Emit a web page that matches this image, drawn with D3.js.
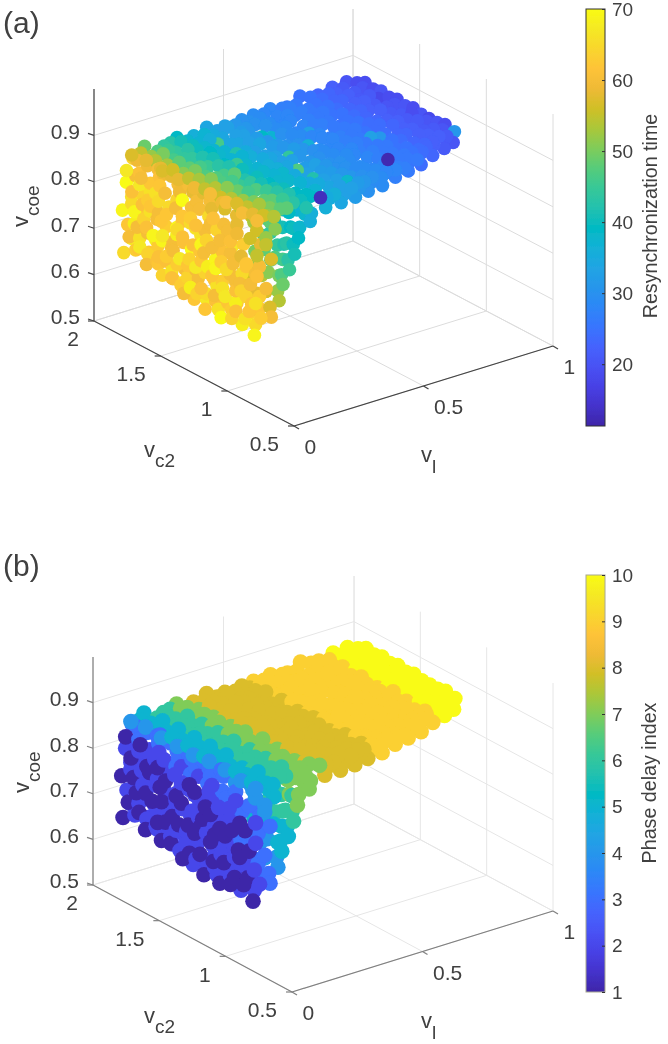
<!DOCTYPE html>
<html>
<head>
<meta charset="utf-8">
<script src="https://d3js.org/d3.v7.min.js"></script>
<style>
body { margin: 0; background: #fff; }
text { font-family: "Liberation Sans", Arial, sans-serif; fill: #404040; }
</style>
</head>
<body>
<div id="chart"></div>
<script>
// ticks
var vlTicks = [0, 0.5, 1];
var vc2Ticks = [0.5, 1, 1.5, 2];
var vcoeTicks = [0.5, 0.6, 0.7, 0.8, 0.9];
var resyncTicks = [20, 30, 40, 50, 60, 70];
var phaseTicks = [1, 2, 3, 4, 5, 6, 7, 8, 9, 10];

// matlab parula
var parula = ["#3e26a8","#4432cb","#4741e5","#4852f4","#4563fd","#3875fe","#2d87f7","#2796eb","#20a5e3","#12b1d6","#02bac3",
	"#24c1ae","#37c897","#57cc7a","#80cc59","#abc739","#d1bf27","#efba36","#fec338","#f9d62d","#f5e924","#f9fb14"];

// point cloud. Both panels show the same points.
// one line per vc2 step: top shelf first, then the low vl wall, then the front edges
var vl = [
	.13,.19,.25,.31,.37,.43,.49,.55,.61,.67,.73,.79,.85,.91,.97,
	.15,.21,.27,.33,.39,.45,.51,.57,.63,.69,.75,.81,.87,.93,.99,
	.17,.23,.29,.35,.41,.47,.53,.59,.65,.71,.77,.83,.89,.95,1.0,
	.13,.19,.25,.31,.37,.43,.49,.55,.61,.67,.73,.79,.85,.91,.97,
	.15,.21,.27,.33,.39,.45,.51,.57,.63,.69,.75,.81,.87,.93,.99,
	.17,.23,.29,.35,.41,.47,.53,.59,.65,.71,.77,.83,.89,.95,1.0,
	.13,.19,.25,.31,.37,.43,.49,.55,.61,.67,.73,.79,.85,.91,.97,
	.15,.21,.27,.33,.39,.45,.51,.57,.63,.69,.75,.81,.87,.93,.99,
	.17,.23,.29,.35,.41,.47,.53,.59,.65,.71,.77,.83,.89,.95,1.0,
	.13,.19,.25,.31,.37,.43,.49,.55,.61,.67,.73,.79,.85,.91,.97,
	.15,.21,.27,.33,.39,.45,.51,.57,.63,.69,.75,.81,.87,.93,.99,
	.17,.23,.29,.35,.41,.47,.53,.59,.65,.71,.77,.83,.89,.95,1.0,
	.13,.19,.25,.31,.37,.43,.49,.55,.61,.67,.73,.79,.85,.91,.97,
	.15,.21,.27,.33,.39,.45,.51,.57,.63,.69,.75,.81,.87,.93,.99,
	.17,.23,.29,.35,.41,.47,.53,.59,.65,.71,.77,.83,.89,.95,1.0,
	.13,.19,.25,.31,.37,.43,.49,.55,.61,.67,.73,.79,.85,.91,.97,
	.15,.21,.27,.33,.39,.45,.51,.57,.63,.69,.75,.81,.87,.93,.99,
	.17,.23,.29,.35,.41,.47,.53,.59,.65,.71,.77,.83,.89,.95,1.0,
	.13,.19,.25,.31,.37,.43,.49,.55,.61,.67,.73,.79,.85,.91,.97,
	.15,.21,.27,.33,.39,.45,.51,.57,.63,.69,.75,.81,.87,.93,.99,
	.17,.23,.29,.35,.41,.47,.53,.59,.65,.71,.77,.83,.89,.95,
	.13,.19,.25,.31,.37,.43,.49,.55,.61,.67,.73,.79,.85,
	.15,.21,.27,.33,.39,.45,.51,.57,.63,.69,.75,.81,
	.17,.23,.29,.35,.41,.47,.53,.59,.65,.71,.77,
	.13,.19,.25,.31,.37,.43,.49,.55,.61,.67,
	.11,.13,.12,.11,.13,.12,.11,.14,
	.13,.11,.12,.14,.12,.11,.13,.14,
	.12,.13,.11,.11,.14,.12,.13,.15,
	.14,.11,.13,.12,.12,.14,.11,.14,
	.11,.12,.14,.11,.13,.11,.13,.15,
	.13,.14,.11,.13,.11,.12,.14,.15,
	.12,.11,.13,.14,.12,.11,.12,.14,
	.11,.13,.14,.11,.11,.13,.12,.15,
	.13,.12,.11,.13,.14,.11,.14,.15,
	.14,.11,.12,.11,.13,.14,.12,.14,
	.12,.14,.11,.13,.11,.12,.13,.15,
	.11,.13,.12,.14,.11,.13,.14,.15,
	.13,.11,.14,.11,.12,.14,.11,.14,
	.12,.13,.11,.13,.14,.11,.13,.15,
	.14,.11,.13,.11,.12,.13,.14,.15,
	.11,.12,.14,.12,.11,.11,.13,.14,
	.13,.14,.11,.13,.11,.14,.12,.15,
	.12,.11,.13,.11,.14,.12,.14,.15,
	.11,.13,.12,.14,.11,.15,.14,.17,
	.13,.11,.14,.11,.13,.12,.15,.17,
	.11,.13,.12,.15,.11,.16,.13,.18,
	.13,.11,.14,.12,.15,.12,.16,.18,
	.12,.14,.11,.16,.12,.18,.17,.20,
	.14,.12,.15,.12,.16,.14,.18,.20,
	.12,.14,.13,.16,.13,.18,.17,.20,
	.17,.20,.22,.24,.26,.28,.32,
	.16,.19,.23,.25,.27,.29,.33,
	.16,.18,.21,.24,.26,.29,.31,
	.15,.17,.20,.22,.25,.27,.30,
	.18,.21,.23,.25,.27,.30,.34,
	.17,.20,.22,.24,.27,.30,.33,
	.16,.19,.21,.23,.26,.28,.31,
	.39,.45,.51,.57,.63,.69,.75,.81,.87,.93,.98,
	.42,.48,.54,.60,.66,.72,.78,.84,.90,.96
];
var vc2 = [
	1.97,1.99,1.96,1.98,1.97,1.99,1.97,1.96,1.99,1.98,1.97,1.99,1.97,1.98,1.99,
	1.94,1.93,1.95,1.94,1.93,1.95,1.93,1.94,1.95,1.93,1.94,1.95,1.93,1.94,1.95,
	1.90,1.89,1.91,1.89,1.90,1.91,1.89,1.90,1.89,1.91,1.89,1.90,1.91,1.89,1.91,
	1.86,1.85,1.87,1.86,1.85,1.87,1.85,1.86,1.87,1.85,1.86,1.87,1.85,1.86,1.87,
	1.83,1.81,1.82,1.81,1.83,1.81,1.83,1.82,1.81,1.83,1.81,1.82,1.83,1.81,1.83,
	1.78,1.77,1.79,1.78,1.77,1.79,1.77,1.78,1.79,1.77,1.78,1.79,1.77,1.78,1.79,
	1.74,1.73,1.75,1.73,1.74,1.75,1.73,1.74,1.75,1.73,1.74,1.75,1.73,1.74,1.75,
	1.70,1.69,1.71,1.70,1.69,1.71,1.69,1.70,1.71,1.69,1.70,1.71,1.69,1.70,1.71,
	1.66,1.65,1.67,1.65,1.66,1.67,1.65,1.66,1.65,1.67,1.65,1.66,1.67,1.65,1.67,
	1.62,1.61,1.63,1.62,1.61,1.63,1.61,1.62,1.63,1.61,1.62,1.63,1.61,1.62,1.63,
	1.58,1.57,1.59,1.57,1.58,1.59,1.57,1.58,1.59,1.57,1.58,1.59,1.57,1.58,1.59,
	1.54,1.53,1.55,1.54,1.53,1.55,1.53,1.54,1.55,1.53,1.54,1.55,1.53,1.54,1.55,
	1.50,1.49,1.51,1.49,1.50,1.51,1.49,1.50,1.49,1.51,1.49,1.50,1.51,1.49,1.50,
	1.46,1.45,1.47,1.46,1.45,1.47,1.45,1.46,1.47,1.45,1.46,1.47,1.45,1.46,1.47,
	1.42,1.41,1.43,1.41,1.42,1.43,1.41,1.42,1.43,1.41,1.42,1.43,1.41,1.42,1.43,
	1.38,1.37,1.39,1.38,1.37,1.39,1.37,1.38,1.39,1.37,1.38,1.39,1.37,1.38,1.39,
	1.34,1.33,1.35,1.33,1.34,1.35,1.33,1.34,1.33,1.35,1.33,1.34,1.35,1.33,1.35,
	1.30,1.29,1.31,1.30,1.29,1.31,1.29,1.30,1.31,1.29,1.30,1.31,1.29,1.30,1.31,
	1.26,1.25,1.27,1.25,1.26,1.27,1.25,1.26,1.27,1.25,1.26,1.27,1.25,1.26,1.27,
	1.22,1.21,1.23,1.22,1.21,1.23,1.21,1.22,1.23,1.21,1.22,1.23,1.21,1.22,1.22,
	1.18,1.17,1.19,1.17,1.18,1.19,1.17,1.18,1.17,1.175,1.17,1.18,1.19,1.20,
	1.14,1.13,1.15,1.14,1.13,1.15,1.13,1.14,1.15,1.13,1.14,1.15,1.16,
	1.10,1.09,1.11,1.09,1.10,1.11,1.09,1.10,1.11,1.09,1.11,1.12,
	1.06,1.05,1.07,1.06,1.05,1.07,1.05,1.06,1.07,1.05,1.07,
	1.03,1.02,1.04,1.01,1.02,1.03,1.02,1.04,1.03,1.04,
	1.99,1.97,1.98,2.00,1.97,1.99,1.97,1.98,
	1.94,1.95,1.93,1.94,1.95,1.93,1.94,1.95,
	1.90,1.91,1.89,1.91,1.90,1.89,1.91,1.89,
	1.86,1.87,1.85,1.86,1.87,1.85,1.86,1.87,
	1.82,1.83,1.81,1.82,1.83,1.81,1.83,1.81,
	1.78,1.79,1.77,1.78,1.79,1.77,1.78,1.79,
	1.75,1.73,1.74,1.73,1.75,1.73,1.74,1.75,
	1.70,1.71,1.69,1.70,1.71,1.69,1.70,1.71,
	1.66,1.65,1.67,1.66,1.65,1.67,1.65,1.66,
	1.62,1.63,1.61,1.62,1.63,1.61,1.62,1.63,
	1.58,1.59,1.57,1.58,1.59,1.57,1.59,1.58,
	1.54,1.55,1.53,1.54,1.55,1.53,1.54,1.55,
	1.50,1.49,1.51,1.50,1.49,1.51,1.49,1.50,
	1.46,1.47,1.45,1.46,1.47,1.45,1.46,1.47,
	1.43,1.41,1.42,1.41,1.43,1.42,1.41,1.42,
	1.38,1.39,1.37,1.38,1.39,1.37,1.38,1.39,
	1.34,1.35,1.33,1.34,1.33,1.35,1.34,1.33,
	1.30,1.31,1.29,1.30,1.31,1.29,1.30,1.31,
	1.26,1.25,1.27,1.25,1.26,1.25,1.27,1.26,
	1.22,1.23,1.21,1.22,1.23,1.21,1.22,1.23,
	1.18,1.19,1.17,1.18,1.17,1.19,1.18,1.17,
	1.14,1.15,1.13,1.14,1.15,1.13,1.14,1.15,
	1.10,1.09,1.11,1.10,1.09,1.10,1.11,1.09,
	1.06,1.07,1.05,1.06,1.07,1.05,1.06,1.07,
	1.03,1.02,1.04,1.02,1.03,1.02,1.04,1.03,
	1.00,1.00,1.01,1.00,1.00,1.01,1.00,
	1.07,1.08,1.06,1.07,1.08,1.07,1.06,
	1.14,1.13,1.15,1.14,1.13,1.15,1.14,
	1.22,1.21,1.23,1.22,1.21,1.23,1.22,
	1.03,1.03,1.04,1.03,1.03,1.04,1.03,
	1.11,1.10,1.12,1.11,1.10,1.11,1.12,
	1.18,1.19,1.18,1.17,1.18,1.19,1.18,
	1.02,1.02,1.03,1.05,1.06,1.08,1.10,1.12,1.15,1.18,1.21,
	1.05,1.05,1.06,1.08,1.10,1.12,1.14,1.17,1.20,1.23
];
var vcoe = [
	.84,.845,.84,.845,.84,.845,.84,.845,.84,.845,.84,.85,.845,.85,.85,
	.845,.84,.845,.84,.845,.84,.845,.84,.845,.85,.845,.85,.85,.85,.85,
	.84,.845,.85,.84,.845,.85,.84,.85,.845,.85,.84,.85,.85,.845,.855,
	.845,.85,.84,.845,.85,.84,.845,.85,.84,.85,.845,.85,.85,.85,.855,
	.845,.84,.85,.845,.84,.85,.845,.85,.84,.85,.845,.85,.85,.845,.855,
	.84,.845,.85,.84,.845,.85,.84,.845,.85,.845,.85,.845,.85,.855,.855,
	.84,.85,.845,.85,.84,.845,.85,.84,.85,.845,.85,.845,.85,.855,.85,
	.845,.84,.85,.845,.84,.85,.845,.85,.84,.85,.845,.85,.85,.85,.855,
	.84,.845,.85,.84,.845,.85,.84,.85,.845,.85,.84,.85,.85,.85,.855,
	.84,.85,.845,.84,.85,.845,.85,.84,.85,.845,.85,.85,.85,.855,.855,
	.845,.84,.85,.845,.85,.84,.85,.845,.85,.84,.85,.85,.845,.85,.855,
	.845,.84,.85,.845,.85,.84,.85,.845,.85,.845,.85,.85,.85,.85,.855,
	.84,.85,.845,.85,.84,.85,.845,.85,.84,.85,.85,.845,.85,.85,.855,
	.84,.845,.85,.84,.85,.845,.85,.85,.84,.85,.845,.85,.855,.855,.855,
	.845,.85,.84,.85,.845,.85,.84,.85,.845,.85,.85,.845,.85,.855,.85,
	.845,.85,.84,.85,.845,.85,.84,.85,.845,.85,.85,.85,.85,.85,.855,
	.84,.845,.85,.84,.85,.845,.85,.84,.85,.845,.85,.85,.85,.85,.855,
	.84,.845,.85,.845,.85,.84,.85,.845,.85,.85,.85,.85,.855,.855,.855,
	.845,.84,.85,.845,.85,.84,.85,.845,.85,.85,.85,.845,.85,.855,.855,
	.845,.84,.85,.845,.85,.845,.85,.85,.84,.85,.85,.85,.85,.855,.855,
	.84,.845,.85,.84,.85,.845,.85,.85,.84,.85,.85,.85,.855,.855,
	.84,.85,.845,.85,.84,.85,.85,.845,.85,.85,.855,.855,.855,
	.84,.845,.85,.84,.85,.845,.85,.85,.85,.85,.855,.855,
	.84,.845,.845,.85,.84,.85,.85,.85,.85,.85,.855,
	.84,.84,.845,.84,.85,.845,.85,.85,.85,.855,
	.63,.66,.69,.72,.75,.78,.81,.83,
	.64,.67,.70,.72,.74,.77,.80,.83,
	.65,.67,.70,.73,.76,.79,.81,.83,
	.645,.66,.69,.72,.75,.78,.81,.83,
	.63,.65,.68,.71,.74,.77,.80,.83,
	.64,.67,.70,.73,.76,.79,.82,.835,
	.64,.66,.69,.72,.75,.78,.81,.83,
	.625,.65,.68,.71,.74,.77,.80,.83,
	.62,.64,.67,.70,.73,.76,.79,.82,
	.615,.63,.66,.69,.72,.75,.78,.81,
	.62,.65,.68,.71,.74,.77,.80,.83,
	.61,.64,.67,.70,.73,.76,.79,.82,
	.60,.63,.66,.69,.72,.75,.78,.81,
	.62,.65,.68,.71,.74,.77,.80,.83,
	.61,.64,.67,.70,.73,.76,.79,.82,
	.60,.63,.66,.69,.72,.75,.78,.81,
	.62,.65,.68,.71,.74,.77,.80,.83,
	.61,.64,.67,.70,.73,.76,.79,.82,
	.60,.63,.66,.69,.72,.75,.78,.81,
	.62,.65,.68,.71,.74,.77,.80,.83,
	.61,.64,.67,.70,.73,.76,.79,.82,
	.60,.63,.66,.69,.72,.75,.78,.81,
	.62,.65,.68,.71,.74,.77,.80,.83,
	.61,.64,.67,.70,.73,.76,.79,.82,
	.595,.63,.66,.69,.72,.75,.78,.81,
	.63,.66,.69,.72,.75,.78,.81,
	.64,.67,.70,.73,.76,.79,.815,
	.62,.66,.69,.72,.75,.78,.81,
	.63,.66,.70,.73,.76,.79,.82,
	.645,.675,.705,.735,.765,.795,.82,
	.63,.665,.70,.73,.755,.785,.815,
	.65,.68,.71,.74,.77,.79,.81,
	.825,.825,.825,.825,.825,.83,.83,.83,.835,.835,.835,
	.835,.835,.835,.835,.84,.84,.84,.845,.845,.845
];
var resyncTime = [
	57,49,44,39,36,34,33,30,29,28,26,25,23,22,20,
	55,47,43,38,37,33,31,30,28,27,26,25,23,21,19,
	52,45,41,37,35,33,31,29,28,27,26,24,22,21,19,
	58,50,44,40,36,34,32,30,29,28,27,25,23,22,20,
	54,46,43,38,46,33,31,30,28,27,26,25,23,21,19,
	53,44,40,37,34,33,39,29,28,27,26,24,22,21,20,
	57,48,44,39,37,34,32,37,29,28,26,25,23,22,18,
	56,48,42,38,42,33,31,30,28,27,26,25,23,21,19,
	51,46,41,37,35,34,31,29,33,27,25,24,22,20,19,
	58,50,45,39,37,33,32,30,29,28,26,25,23,22,20,
	55,47,43,45,36,33,31,30,28,27,26,25,23,21,20,
	53,47,42,38,35,33,32,36,28,27,26,24,22,21,19,
	59,51,46,40,37,34,44,31,29,28,26,25,24,22,19,
	55,47,48,38,36,33,31,30,28,27,26,24,23,21,20,
	54,46,42,38,36,33,31,29,28,27,33,24,22,21,18,
	60,51,45,40,37,34,32,30,29,28,26,31,23,22,20,
	56,49,44,39,38,47,33,30,29,27,26,25,23,21,20,
	54,46,41,38,35,33,31,30,28,27,26,24,22,21,19,
	60,52,47,41,38,34,32,30,29,28,26,25,23,22,20,
	57,50,45,40,37,42,32,30,29,27,26,25,23,22,31,
	55,48,43,39,35,33,31,29,28,12,26,24,22,21,
	60,53,48,42,39,35,33,31,29,28,26,25,23,
	58,50,45,40,37,34,38,30,29,27,26,24,
	56,48,43,39,35,33,32,30,28,27,26,
	60,54,48,42,13,36,33,31,29,28,
	65,68,62,69,66,70,67,64,
	63,60,68,62,65,61,60,59,
	62,66,60,69,64,67,61,62,
	62,67,60,64,61,66,60,59,
	60,64,68,61,66,63,62,60,
	61,63,69,60,62,66,61,58,
	62,61,69,63,60,65,62,59,
	64,61,60,67,62,65,60,58,
	61,66,63,60,69,62,64,60,
	66,61,63,60,68,62,60,59,
	63,60,67,61,65,62,70,60,
	60,64,62,70,61,65,60,58,
	62,68,60,64,61,66,63,60,
	64,60,67,62,66,61,60,58,
	67,61,64,62,69,60,65,60,
	62,65,61,68,60,64,60,58,
	61,66,62,69,60,64,61,59,
	66,60,63,69,61,60,60,57,
	70,62,66,60,63,67,60,58,
	63,67,60,65,60,61,58,55,
	64,68,61,65,60,63,59,56,
	68,61,64,60,62,58,56,53,
	66,62,64,60,62,58,56,52,
	65,62,63,60,60,55,52,48,
	69,63,66,60,61,57,55,51,
	60,54,49,45,41,39,36,
	62,57,50,46,43,40,38,
	64,58,54,48,44,41,39,
	63,60,55,50,46,43,40,
	57,52,47,43,40,38,36,
	60,55,51,47,42,39,37,
	60,56,52,48,44,41,39,
	36,34,32,30,29,27,26,24,23,21,20,
	35,33,31,29,28,27,25,24,22,21
];
var phaseIndex = [
	4,5,6,7,8,8,8,8,9,9,9,9,9,10,10,
	5,6,6,7,8,8,8,8,9,9,9,9,9,10,10,
	5,6,7,7,8,8,8,9,9,9,9,9,10,10,10,
	4,5,6,7,8,8,8,8,9,9,9,9,9,10,10,
	5,6,6,7,8,8,8,8,9,9,9,9,9,10,10,
	5,6,7,7,8,8,8,9,9,9,9,9,10,10,10,
	4,5,6,7,8,8,8,8,9,9,9,9,9,10,10,
	5,6,6,7,8,8,8,8,9,9,9,9,9,10,10,
	5,6,7,7,8,8,8,9,9,9,9,9,10,10,10,
	4,5,6,7,8,8,8,8,9,9,9,9,9,10,10,
	5,6,6,7,8,8,8,8,9,9,9,9,9,10,10,
	5,6,7,7,8,8,8,9,9,9,9,9,10,10,10,
	4,5,6,7,8,8,8,8,9,9,9,9,9,10,10,
	5,6,6,7,8,8,8,8,9,9,9,9,9,10,10,
	5,6,7,7,8,8,8,9,9,9,9,9,10,10,10,
	4,5,6,7,8,8,8,8,9,9,9,9,9,10,10,
	5,6,6,7,8,8,8,8,9,9,9,9,9,10,10,
	5,6,7,7,8,8,8,9,9,9,9,9,10,10,10,
	4,5,6,7,8,8,8,8,9,9,9,9,9,10,10,
	5,6,6,7,8,8,8,8,9,9,9,9,9,10,10,
	5,6,7,7,8,8,8,9,9,9,9,9,10,10,
	4,5,6,7,8,8,8,8,9,9,9,9,9,
	5,6,6,7,8,8,8,8,9,9,9,9,
	5,6,7,7,8,8,8,9,9,9,9,
	4,5,6,7,7,8,8,8,9,9,
	1,2,2,1,2,2,1,3,
	2,1,2,2,2,1,2,3,
	2,2,1,1,2,2,3,3,
	2,1,2,2,2,2,1,3,
	1,2,2,1,2,1,2,3,
	2,2,1,2,1,2,3,3,
	2,1,2,2,2,1,2,3,
	1,2,2,1,1,2,2,3,
	2,2,1,2,2,1,3,3,
	2,1,2,1,2,2,2,3,
	2,2,1,2,1,2,2,3,
	1,2,2,2,1,2,3,3,
	2,1,2,1,2,2,1,3,
	2,2,1,2,2,1,2,3,
	2,1,2,1,2,2,3,3,
	1,2,2,2,1,1,2,3,
	2,2,1,2,1,2,2,3,
	2,1,2,1,2,2,3,3,
	1,2,2,2,1,3,3,4,
	2,1,2,1,2,2,3,4,
	1,2,2,3,1,3,2,4,
	2,1,2,1,3,1,3,4,
	1,2,1,3,1,3,4,5,
	2,1,3,1,3,2,4,5,
	1,2,2,3,2,3,4,5,
	3,4,5,5,6,7,7,
	3,4,5,5,6,6,7,
	3,3,4,5,6,6,7,
	2,3,4,5,5,6,7,
	3,4,5,5,6,7,7,
	3,4,4,5,6,7,7,
	3,4,4,5,6,6,7,
	8,8,8,8,9,9,9,9,9,10,10,
	8,8,8,9,9,9,9,9,10,10
];

var svg = d3.select("#chart").append("svg").attr("width", 668).attr("height", 1044);
var defs = svg.append("defs");
// the source picture is a soft upscale
defs.append("filter").attr("id", "soft").append("feGaussianBlur").attr("stdDeviation", 0.45);
var root = svg.append("g").attr("filter", "url(#soft)");

var parulaColor = d3.scaleLinear().domain(d3.range(parula.length).map(function(i) { return i / (parula.length - 1); })).range(parula).clamp(true);

//This function draws one 3D box with its scatter and its colorbar
function DrawPanel(p) {
	var g = root.append("g");
	var xVl = d3.scaleLinear().domain([0, 1]).range([0, p.vlDx]);
	var yVl = d3.scaleLinear().domain([0, 1]).range([0, p.vlDy]);
	var xC = d3.scaleLinear().domain([0.5, 2]).range([0, p.cDx]);
	var yC = d3.scaleLinear().domain([0.5, 2]).range([0, p.cDy]);
	var yZ = d3.scaleLinear().domain([0.5, 1]).range([0, -p.zLen]);

	function px(a, c) { return p.x0 + xVl(a) + xC(c); }
	function py(a, c, z) { return p.y0 + yVl(a) + yC(c) + yZ(z); }
	function seg(sel, a1, c1, z1, a2, c2, z2) {
		return sel.append("line").attr("x1", px(a1, c1)).attr("y1", py(a1, c1, z1)).attr("x2", px(a2, c2)).attr("y2", py(a2, c2, z2));
	}

	var grid = g.append("g").attr("stroke", p.gridColor).attr("stroke-width", 1);
	vlTicks.forEach(function(t) {
		seg(grid, t, 0.5, 0.5, t, 2, 0.5);
		seg(grid, t, 2, 0.5, t, 2, 1);
	});
	vc2Ticks.forEach(function(t) {
		seg(grid, 0, t, 0.5, 1, t, 0.5);
		seg(grid, 1, t, 0.5, 1, t, 1);
	});
	vcoeTicks.forEach(function(t) {
		seg(grid, 0, 2, t, 1, 2, t);
		seg(grid, 1, 2, t, 1, 0.5, t);
	});

	var axes = g.append("g").attr("stroke", p.axisColor).attr("stroke-width", 1.2);
	seg(axes, 0, 2, 0.5, 0, 2, 1);
	seg(axes, 0, 2, 0.5, 0, 0.5, 0.5);
	seg(axes, 0, 0.5, 0.5, 1, 0.5, 0.5);

	vcoeTicks.forEach(function(t) {
		var x = px(0, 2), y = py(0, 2, t);
		axes.append("line").attr("x1", x).attr("y1", y).attr("x2", x - 6).attr("y2", y - 2);
		g.append("text").attr("x", x - 14).attr("y", y - 4).attr("dy", "0.35em").attr("text-anchor", "end").attr("font-size", 21).text(t);
	});
	vc2Ticks.forEach(function(t) {
		var x = px(0, t), y = py(0, t, 0.5);
		axes.append("line").attr("x1", x).attr("y1", y).attr("x2", x - 6).attr("y2", y);
		g.append("text").attr("x", x - 15).attr("y", y + 18).attr("dy", "0.35em").attr("text-anchor", "end").attr("font-size", 21).text(t);
	});
	vlTicks.forEach(function(t) {
		var x = px(t, 0.5), y = py(t, 0.5, 0.5);
		axes.append("line").attr("x1", x).attr("y1", y).attr("x2", x + 5).attr("y2", y + 3);
		g.append("text").attr("x", x + 10.5).attr("y", y + 21).attr("dy", "0.35em").attr("font-size", 21).text(t);
	});

	// axis names
	var coe = g.append("text").attr("transform", "translate(" + p.coeX + "," + p.coeY + ") rotate(-90)").attr("font-size", 22);
	coe.append("tspan").text("v");
	coe.append("tspan").attr("dy", 11).attr("font-size", 19).text("coe");
	var c2 = g.append("text").attr("x", 144).attr("y", p.y0 + 31).attr("font-size", 22);
	c2.append("tspan").text("v");
	c2.append("tspan").attr("dy", 10).attr("font-size", 19).text("c2");
	var l = g.append("text").attr("x", 421).attr("y", p.y0 + 36).attr("font-size", 22);
	l.append("tspan").text("v");
	l.append("tspan").attr("dy", 11).attr("font-size", 19).text("l");

	g.append("text").attr("x", 3).attr("y", p.tagY).attr("font-size", 30).attr("fill", "#303030").text(p.tag);

	// points, far ones first
	var values = p.values;
	var cMin = p.cDomain[0], cMax = p.cDomain[1];
	var order = d3.range(vl.length).sort(function(a, b) {
		return d3.ascending(-vl[a] * 259 - vc2[a] * 133 + vcoe[a] * 30, -vl[b] * 259 - vc2[b] * 133 + vcoe[b] * 30);
	});
	var dots = g.append("g").selectAll("circle").data(order).enter().append("circle")
		.attr("cx", function(i) { return px(vl[i], vc2[i]); })
		.attr("cy", function(i) { return py(vl[i], vc2[i], vcoe[i]); })
		.attr("r", p.r)
		.attr("fill", function(i) { return parulaColor((values[i] - cMin) / (cMax - cMin)); });
	if (p.raiseBelow) {
		dots.filter(function(i) { return values[i] < p.raiseBelow; }).raise();
	}

	// colorbar
	var barY = d3.scaleLinear().domain(p.cDomain).range([p.barBottom, p.barTop]);
	var gradId = "grad" + p.tag.charAt(1);
	var grad = defs.append("linearGradient").attr("id", gradId).attr("x1", 0).attr("x2", 0).attr("y1", 1).attr("y2", 0);
	parula.forEach(function(col, i) {
		grad.append("stop").attr("offset", i / (parula.length - 1)).attr("stop-color", col);
	});
	g.append("rect").attr("x", 586).attr("y", p.barTop).attr("width", 19).attr("height", p.barBottom - p.barTop)
		.attr("fill", "url(#" + gradId + ")").attr("stroke", p.barStroke).attr("stroke-width", 1);
	var axis = d3.axisRight(barY).tickValues(p.cTicks).tickSize(-3).tickPadding(7).tickFormat(d3.format("d"));
	var ax = g.append("g").attr("transform", "translate(605,0)").call(axis);
	ax.select(".domain").remove();
	ax.selectAll("line").attr("stroke", "#333");
	ax.selectAll("text").attr("font-size", 19).attr("font-family", null).style("fill", "#404040");
	g.append("text").attr("transform", "translate(" + p.labelX + "," + p.labelY + ") rotate(-90)").attr("text-anchor", "middle").attr("font-size", 19.7).text(p.label);
}

DrawPanel({
	tag: "(a)", tagY: 33, x0: 294, y0: 426, vlDx: 259, vlDy: -80, cDx: -200, cDy: -105, zLen: 232,
	axisColor: "#444", gridColor: "#dcdcdc", r: 6.8, values: resyncTime, cDomain: [11.3, 70], cTicks: resyncTicks,
	barTop: 9, barBottom: 426, barStroke: "#333", label: "Resynchronization time", labelX: 657, labelY: 216,
	coeX: 28, coeY: 227, raiseBelow: 15
});
DrawPanel({
	tag: "(b)", tagY: 576, x0: 292, y0: 992, vlDx: 261, vlDy: -81, cDx: -199, cDy: -107, zLen: 228,
	axisColor: "#808080", gridColor: "#e6e6e6", r: 7.8, values: phaseIndex, cDomain: [1, 10], cTicks: phaseTicks,
	barTop: 575, barBottom: 992, barStroke: "#a8a890", label: "Phase delay index", labelX: 656, labelY: 783,
	coeX: 29, coeY: 793
});
</script>
</body>
</html>
